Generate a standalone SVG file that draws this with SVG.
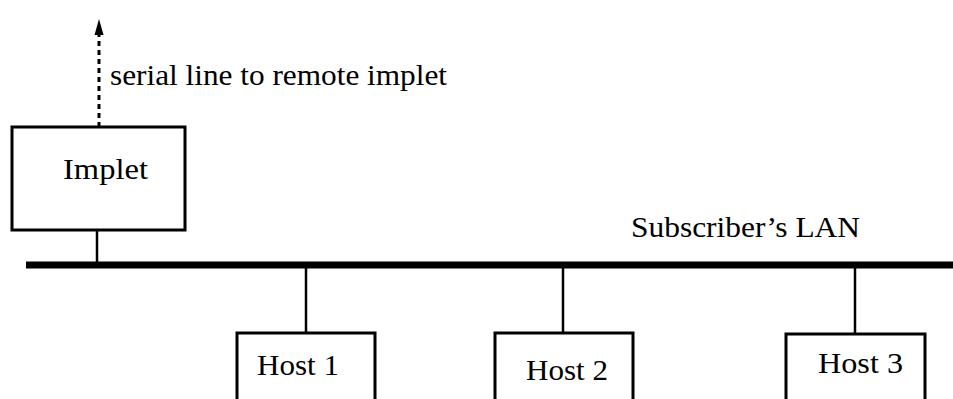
<svg xmlns="http://www.w3.org/2000/svg" width="953" height="399" viewBox="0 0 953 399">
<defs>
<style>
.box{fill:#fff;stroke:#000;stroke-width:3}
.t{font-family:"Liberation Serif","Times New Roman",serif;font-size:30px;fill:#000}
.ln{stroke:#000;stroke-width:2.5;fill:none}
</style>
</defs>
<rect width="953" height="399" fill="#fff"/>
<g id="connectors">
<line x1="26" y1="265" x2="953" y2="265" stroke="#000" stroke-width="7"/>
<line class="ln" x1="97" y1="230" x2="97" y2="265"/>
<line class="ln" x1="306" y1="265" x2="306" y2="333"/>
<line class="ln" x1="563" y1="265" x2="563" y2="333"/>
<line class="ln" x1="855" y1="265" x2="855" y2="334"/>
<line x1="99" y1="127" x2="99" y2="34" stroke="#000" stroke-width="3" stroke-dasharray="5,4"/>
<path d="M99,19 L103.5,35 L94.5,35 Z" fill="#000"/>
<text class="t" x="110" y="85" textLength="337" lengthAdjust="spacingAndGlyphs">serial line to remote implet</text>
<text class="t" x="631" y="237" textLength="229" lengthAdjust="spacingAndGlyphs">Subscriber’s LAN</text>
</g>
<g id="implet">
<rect class="box" x="12" y="127" width="173" height="103"/>
<text class="t" x="63" y="179" textLength="85" lengthAdjust="spacingAndGlyphs">Implet</text>
</g>
<g id="host1">
<rect class="box" x="237" y="333" width="138" height="80"/>
<text class="t" x="257" y="375" textLength="82" lengthAdjust="spacingAndGlyphs">Host 1</text>
</g>
<g id="host2">
<rect class="box" x="495" y="333" width="138" height="80"/>
<text class="t" x="526" y="380" textLength="82" lengthAdjust="spacingAndGlyphs">Host 2</text>
</g>
<g id="host3">
<rect class="box" x="786" y="334" width="139" height="80"/>
<text class="t" x="818" y="373" textLength="85" lengthAdjust="spacingAndGlyphs">Host 3</text>
</g>
</svg>
